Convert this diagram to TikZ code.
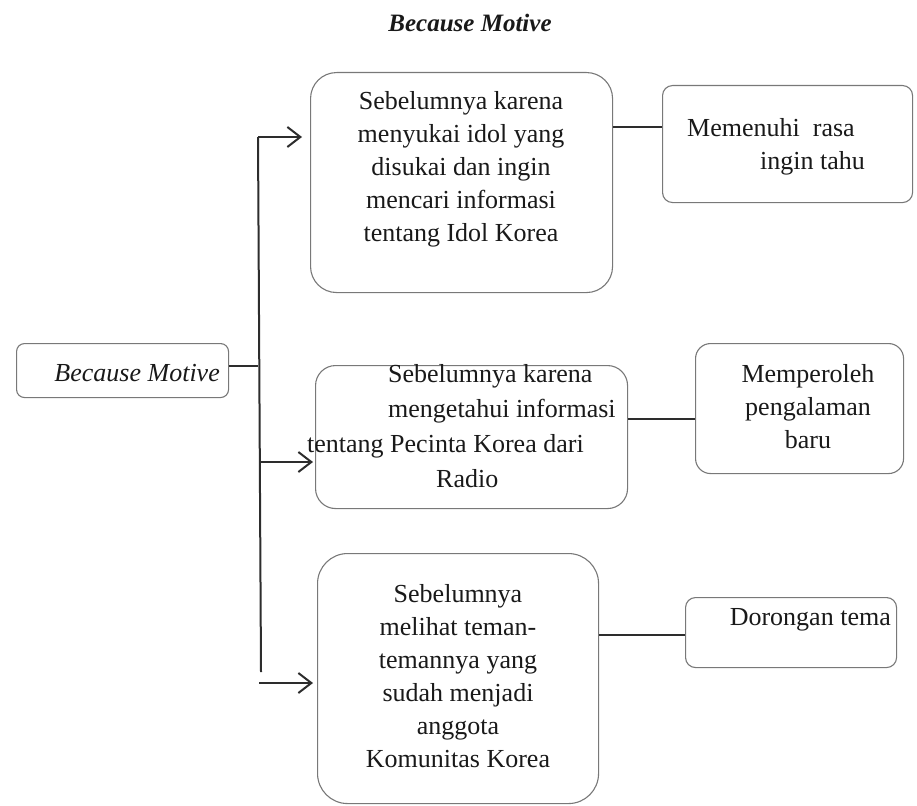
\documentclass[tikz,border=0pt]{standalone}
\usepackage{fontspec}
\setmainfont{Liberation Serif}
\usetikzlibrary{arrows.meta}
\definecolor{boxgray}{RGB}{120,120,120}
\definecolor{linedark}{RGB}{45,45,45}
\definecolor{txtcol}{RGB}{25,25,25}
\begin{document}
\begin{tikzpicture}[x=1pt,y=-1pt,
  bx/.style={draw=boxgray,line width=1.1pt,inner sep=0pt,anchor=north west},
  txt/.style={inner sep=0pt,text=txtcol,font=\fontsize{26}{33}\selectfont},
  conn/.style={draw=linedark,line width=2pt},
  arr/.style={draw=linedark,line width=2pt,-{Straight Barb[length=13pt,width=20pt,line width=2pt]}}]
\useasboundingbox (0,0) rectangle (917,805);
% title
\node[txt,font=\fontsize{25}{30}\selectfont\bfseries\itshape,anchor=base] (title) at (470,32) {Because Motive};
% left box
\node[bx,rounded corners=8pt,minimum width=212pt,minimum height=54pt] (b0) at (16,343) {};
\node[txt,font=\fontsize{26}{30}\selectfont\itshape,anchor=base east] (t0) at (220,381) {Because Motive};
% boxes column 2
\node[bx,rounded corners=26pt,minimum width=302pt,minimum height=220pt] (b1) at (310,72) {};
\node[txt,align=center,anchor=north] (t1) at (461,91) {Sebelumnya karena\\menyukai idol yang\\disukai dan ingin\\mencari informasi\\tentang Idol Korea};
\node[bx,rounded corners=20pt,minimum width=312pt,minimum height=143pt] (b2) at (315,365) {};
\node[txt,align=left,anchor=north west,font=\fontsize{26}{35}\selectfont] (t2) at (307,364) {\hspace*{81pt}Sebelumnya karena\\\hspace*{81pt}mengetahui informasi\\tentang Pecinta Korea dari\\\hspace*{129pt}Radio};
\node[bx,rounded corners=30pt,minimum width=281pt,minimum height=250pt] (b3) at (317,553) {};
\node[txt,align=center,anchor=north] (t3) at (458,584) {Sebelumnya\\melihat teman-\\temannya yang\\sudah menjadi\\anggota\\Komunitas Korea};
% boxes column 3
\node[bx,rounded corners=10pt,minimum width=250pt,minimum height=117pt] (m1) at (662,85) {};
\node[txt,align=left,anchor=north west] (tm1) at (687,118) {Memenuhi\ \ rasa\\\hspace*{73pt}ingin tahu};
\node[bx,rounded corners=15pt,minimum width=208pt,minimum height=130pt] (m2) at (695,343) {};
\node[txt,align=center,anchor=north] (tm2) at (808,364) {Memperoleh\\pengalaman\\baru};
\node[bx,rounded corners=10pt,minimum width=211pt,minimum height=70pt] (m3) at (685,597) {};
\node[txt,anchor=base east] (tm3) at (891,625) {Dorongan tema};
% trunk
\coordinate (top) at (258,137);
\coordinate (bot) at (261,672);
\coordinate (j2) at (260,462);
\coordinate (s3) at (259,683);
\coordinate (c0) at (0,366);
\coordinate (c1) at (0,127);
\coordinate (c2) at (0,419);
\coordinate (c3) at (0,635);
\draw[conn] (top) -- (bot);
\draw[conn] (b0.east |- c0) -- (top |- c0);
\draw[arr] (top) -- ([xshift=-8pt]b1.west |- top);
\draw[arr] (j2) -- ([xshift=-2pt]b2.west |- j2);
\draw[arr] (s3) -- ([xshift=-4pt]b3.west |- s3);
\draw[conn] (b1.east |- c1) -- (m1.west |- c1);
\draw[conn] (b2.east |- c2) -- (m2.west |- c2);
\draw[conn] (b3.east |- c3) -- (m3.west |- c3);
\end{tikzpicture}
\end{document}
